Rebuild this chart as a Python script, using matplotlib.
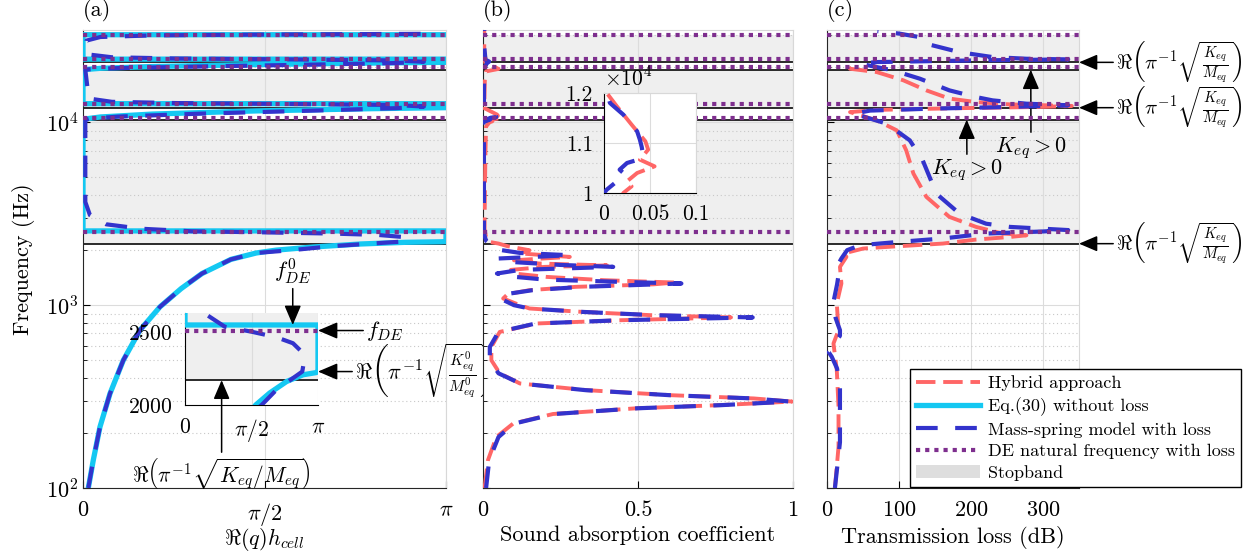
import numpy as np
import matplotlib.pyplot as plt
from matplotlib.lines import Line2D
from matplotlib.patches import Patch

plt.rcParams['font.family'] = 'cmr10'
plt.rcParams['mathtext.fontset'] = 'cm'
plt.rcParams['axes.formatter.use_mathtext'] = True
plt.rcParams['axes.unicode_minus'] = False
plt.rcParams['font.size'] = 16

PI = np.pi

# horizontal reference frequencies (Hz)
f_de = [2510, 10610, 12650, 20050, 22170, 30150]      # DE natural frequency with loss
f_keq = [2170, 10350, 12030, 19410, 21290]            # Re(pi^-1 sqrt(Keq/Meq))
stopbands = [(2170, 10350), (12030, 19410), (21290, 30150)]
f_de0 = 2548      # lossless DE frequency
f_keq0 = 2229     # Re(pi^-1 sqrt(K0/M0))

# (a) Re(q)h_cell vs frequency
cyan_q = [0.046, 0.089, 0.147, 0.234, 0.349, 0.493, 0.666, 0.85, 1.03, 1.28, 1.5, 1.67, 2.0, 2.40, 2.79, 3.10,
          PI, PI, 0, 0, 0.15, 0.6, 1.5, 2.5, PI, PI, 0, 0, 0.15, 0.6, 1.5, 2.5, PI, PI, 0, 0, PI]
cyan_f = [100, 142, 216, 329, 500, 730, 979, 1233, 1490, 1780, 1930, 2000, 2082, 2161, 2207, 2222,
          2229, 2548, 2548, 10400, 10700, 11100, 11550, 11880, 12030, 12650, 12650, 19410, 19750, 20200, 20700,
          21100, 21290, 22170, 22170, 30150, 30150]
blue_q = [0.046, 0.089, 0.147, 0.234, 0.349, 0.493, 0.666, 0.85, 1.03, 1.28, 1.5, 1.81, 2.16, 2.55, 2.77, 2.81,
          2.79, 2.55, 2.16, 1.57, 0.94, 0.5, 0.2, 0.06, 0.02, 0.02, 0.05, 0.3, 1.0, 2.0, 2.7, 2.95, 2.7, 1.8,
          0.8, 0.25, 0.05, 0.02, 0.05, 0.3, 1.0, 2.0, 2.7, 2.95, 2.7, 1.8, 0.8, 0.25, 0.05, 0.02, 0.03, 0.15,
          0.6, 1.5, 2.5, 3.0]
blue_f = [100, 142, 216, 329, 500, 730, 979, 1233, 1490, 1780, 1930, 2000, 2104, 2184, 2229, 2297,
          2355, 2423, 2464, 2502, 2536, 2620, 2770, 3110, 3670, 10300, 10450, 10750, 11150, 11600, 11950, 12200,
          12450, 12600, 12750, 12950, 13500, 19350, 19500, 19800, 20200, 20700, 21100, 21450, 21800, 22100,
          22350, 22700, 23500, 25000, 28000, 29300, 29900, 30200, 30400, 30500]

# (b) sound absorption coefficient (f, alpha)
red_b = [(100, .005), (142, .016), (190, .043), (225, .097), (254, .226), (273, .496), (284, .765), (297, .997),
         (309, .873), (322, .603), (343, .334), (373, .119), (424, .054), (500, .027), (591, .027), (714, .054),
         (794, .173), (828, .45), (857, .80), (882, .54), (919, .32), (959, .15), (1000, .119), (1088, .065),
         (1150, .08), (1208, .15), (1260, .30), (1300, .55), (1330, .62), (1370, .39), (1428, .205), (1490, .10),
         (1560, .09), (1620, .20), (1650, .40), (1690, .18), (1760, .10), (1837, .28), (1918, .12), (1997, .15),
         (2100, .08), (2173, .05), (2219, .02), (2350, .01), (2600, .005), (4000, .006), (7000, .008), (9500, .01),
         (10000, .021), (10133, .030), (10233, .025), (10400, .036), (10533, .055), (10667, .039), (10867, .048),
         (11033, .045), (11167, .039), (11367, .030), (11733, .014), (12000, .003), (12300, .004), (14000, .005),
         (17000, .006), (19000, .01), (19300, .03), (19600, .05), (20000, .04), (20500, .02), (21000, .008),
         (22000, .005), (25000, .004), (30000, .004), (32000, .004)]
blue_b = [(100, .01), (142, .02), (190, .05), (225, .10), (254, .23), (273, .50), (284, .77), (297, .99),
          (309, .87), (322, .60), (343, .33), (373, .12), (424, .05), (500, .022), (591, .022), (714, .05),
          (794, .17), (828, .45), (857, .87), (882, .55), (919, .32), (959, .15), (1000, .10), (1088, .055),
          (1150, .075), (1208, .16), (1260, .32), (1314, .64), (1340, .45), (1380, .20), (1430, .10), (1490, .045),
          (1560, .12), (1620, .42), (1660, .25), (1720, .10), (1800, .05), (1876, .28), (1930, .12), (2000, .06),
          (2100, .04), (2180, .02), (2250, .01), (2400, .005), (2600, .003), (5000, .003), (9000, .003),
          (10000, 0.0), (10067, .003), (10233, .014), (10367, .023), (10467, .017), (10600, .025), (10700, .043),
          (10920, .041), (11067, .039), (11233, .036), (11567, .021), (11800, .0065), (12000, .003), (15000, .003),
          (19000, .004), (20000, .006), (21000, .012), (21500, .02), (22000, .008), (26000, .004), (30000, .006),
          (32000, .004)]

# (c) transmission loss (f, dB)
red_c = [(100, 11), (168, 16), (278, 16), (441, 13.6), (617, 9), (729, 16), (1021, 13.6), (1314, 20), (1620, 18),
         (1837, 27), (1917, 23), (2040, 50), (2066, 69), (2173, 161), (2285, 207), (2361, 254), (2411, 277),
         (2440, 262), (2465, 244), (2680, 207), (3040, 170), (3910, 138), (5250, 120), (7030, 110), (9040, 97),
         (10250, 69), (11380, 32), (11700, 70), (11950, 180), (12150, 300), (12300, 340), (12540, 254),
         (12910, 207), (13490, 170), (14960, 138), (16980, 106), (18840, 69), (19640, 32), (20100, 30)]
blue_c = [(100, 11), (178, 18), (357, 18), (450, 14), (522, 6.6), (556, 2), (600, 8), (680, 18), (730, 18),
          (850, 12), (1042, 9), (1300, 14), (1459, 16), (1620, 13.6), (1800, 20), (2000, 28), (2127, 46),
          (2222, 101), (2316, 161), (2465, 221), (2530, 300), (2575, 335), (2620, 300), (2680, 254), (2790, 221),
          (3170, 184), (4070, 152), (6190, 133), (7970, 115), (9840, 83), (11160, 37), (11600, 60), (11900, 150),
          (12130, 250), (12400, 335), (12650, 277), (13190, 230), (13750, 207), (14960, 170), (17330, 129),
          (19230, 92), (20940, 46), (21370, 69), (21800, 200), (22100, 335), (22280, 277), (22750, 230),
          (24200, 184), (26900, 138), (29240, 129), (30600, 100), (31500, 70)]

c_red = '#ff6666'
c_blue = '#3333cc'
c_cyan = '#14c8f2'
c_purple = '#7e2f8e'
c_stop = '#efefef'
red_ls = (0, (5.0, 2.0))
blue_ls = (0, (5.2, 4.2))
dot_ls = (0, (1, 1.2))

W, H = 1256, 552
fig = plt.figure(figsize=(W / 100, H / 100), dpi=100)


def px_axes(l, t, r, b):
    return fig.add_axes([l / W, 1 - b / H, (r - l) / W, (b - t) / H])


def style(ax, ylog=True):
    if ylog:
        ax.set_yscale('log')
        ax.set_ylim(100, 32000)
        ax.set_yticks([100, 1000, 10000])
        ax.grid(True, which='minor', axis='y', color='#c8c8c8', ls=(0, (1, 2.5)), lw=0.8)
    ax.grid(True, which='major', color='#dcdcdc', lw=0.8)
    ax.tick_params(direction='in', which='both', top=False, right=False, labelsize=16)
    ax.tick_params(axis='x', pad=9)
    ax.tick_params(which='major', length=5)
    ax.tick_params(which='minor', length=3)
    for s in ['top', 'right']:
        ax.spines[s].set_color('#d8d8d8')
    for s in ['left', 'bottom']:
        ax.spines[s].set_color('#262626')


def background(ax, dots=True):
    for lo, hi in stopbands:
        ax.axhspan(lo, hi, color=c_stop, lw=0, zorder=0)
    for f in f_keq:
        ax.axhline(f, color='#1a1a1a', lw=1.3, zorder=2)
    if dots:
        for f in f_de:
            ax.axhline(f, color=c_purple, lw=3, ls=dot_ls, zorder=6)


def xlabel(ax, text):
    ax.set_xlabel(text, fontsize=16, va='top')
    ax.xaxis.set_label_coords(0.5, -0.082)


# ---------- (a)
ax_a = px_axes(83, 30, 446, 488)
style(ax_a)
background(ax_a)
ax_a.plot(cyan_q, cyan_f, color=c_cyan, lw=3.8, zorder=3)
ax_a.plot(blue_q, blue_f, color=c_blue, lw=3, ls=blue_ls, zorder=4)
ax_a.set_xlim(0, PI)
ax_a.set_xticks([0, PI / 2, PI])
ax_a.set_xticklabels(['0', r'$\pi/2$', r'$\pi$'])
xlabel(ax_a, r'$\Re(q)h_{cell}$')
ax_a.set_ylabel('Frequency (Hz)', fontsize=16, labelpad=8)
ax_a.text(0, 1.018, '(a)', transform=ax_a.transAxes, fontsize=16, va='bottom')

# inset (a)
ax_ia = px_axes(185, 313, 318, 405)
ax_ia.set_facecolor('white')
for lo, hi in stopbands:
    ax_ia.axhspan(lo, hi, color=c_stop, lw=0, zorder=0)
ax_ia.axhline(f_keq[0], color='#1a1a1a', lw=1.3, zorder=2)
ax_ia.axhline(f_de[0], color=c_purple, lw=3, ls=dot_ls, zorder=6)
ax_ia.plot(cyan_q, cyan_f, color=c_cyan, lw=3.8, zorder=3)
ax_ia.plot(blue_q, blue_f, color=c_blue, lw=3, ls=blue_ls, zorder=4)
ax_ia.set_xlim(0, PI)
ax_ia.set_ylim(2000, 2630)
ax_ia.set_xticks([0, PI / 2, PI])
ax_ia.set_xticklabels(['0', r'$\pi/2$', r'$\pi$'])
ax_ia.set_yticks([2000, 2500])
ax_ia.grid(True, axis='x', color='#dcdcdc', lw=0.8)
ax_ia.tick_params(direction='in', length=0, labelsize=15.5, pad=9)
for s in ['top', 'right']:
    ax_ia.spines[s].set_visible(False)

arr = dict(arrowstyle='-|>,head_length=0.75,head_width=0.32', color='k', lw=1.1, shrinkA=0, shrinkB=0)
ax_ia.annotate(r'$f^0_{DE}$', xy=(2.545, f_de0), xytext=(2.545, 281), textcoords=('data', 'figure pixels'),
               ha='center', va='center', fontsize=16, arrowprops=arr, annotation_clip=False)
ax_ia.annotate(r'$f_{DE}$', xy=(PI, f_de[0]), xytext=(366, f_de[0]), textcoords=('figure pixels', 'data'),
               ha='left', va='center', fontsize=16, arrowprops=arr, annotation_clip=False)
ax_ia.annotate(r'$\Re\left(\pi^{-1}\sqrt{\frac{K^0_{eq}}{M^0_{eq}}}\right)$', xy=(PI, f_keq0),
               xytext=(355, f_keq0), textcoords=('figure pixels', 'data'),
               ha='left', va='center', fontsize=16, arrowprops=arr, annotation_clip=False)
ax_ia.annotate(r'$\Re\left(\pi^{-1}\sqrt{K_{eq}/M_{eq}}\right)$', xy=(0.865, f_keq[0]), xytext=(0.865, H - 473),
               textcoords=('data', 'figure pixels'), ha='center', va='center', fontsize=15.5,
               arrowprops=arr, annotation_clip=False)

# ---------- (b)
fb_r, ab_r = np.array(red_b).T
fb_b, ab_b = np.array(blue_b).T
ax_b = px_axes(483, 30, 793, 488)
style(ax_b)
background(ax_b)
ax_b.plot(ab_r, fb_r, color=c_red, lw=2.8, ls=red_ls, zorder=3)
ax_b.plot(ab_b, fb_b, color=c_blue, lw=3, ls=blue_ls, zorder=4)
ax_b.set_xlim(0, 1)
ax_b.set_xticks([0, 0.5, 1])
ax_b.set_xticklabels(['0', '0.5', '1'])
ax_b.tick_params(labelleft=False)
xlabel(ax_b, 'Sound absorption coefficient')
ax_b.text(0, 1.018, '(b)', transform=ax_b.transAxes, fontsize=16, va='bottom')

ax_ib = px_axes(604, 93, 696, 193)
ax_ib.set_facecolor('white')
ax_ib.plot(ab_r, fb_r, color=c_red, lw=2.8, ls=red_ls, zorder=3)
ax_ib.plot(ab_b, fb_b, color=c_blue, lw=3, ls=blue_ls, zorder=4)
ax_ib.set_xlim(0, 0.1)
ax_ib.set_ylim(10000, 12000)
ax_ib.set_xticks([0, 0.05, 0.1])
ax_ib.set_xticklabels(['0', '0.05', '0.1'])
ax_ib.set_yticks([10000, 11000, 12000])
ax_ib.set_yticklabels(['1', '1.1', '1.2'])
ax_ib.grid(True, color='#dcdcdc', lw=0.8)
ax_ib.tick_params(direction='in', length=0, labelsize=15.5, pad=8)
for s in ['top', 'right']:
    ax_ib.spines[s].set_color('#d8d8d8')
ax_ib.text(0, 1.03, r'$\times10^4$', transform=ax_ib.transAxes, fontsize=15.5, va='bottom', ha='left')

# ---------- (c)
fc_r, tl_r = np.array(red_c).T
fc_b, tl_b = np.array(blue_c).T
ax_c = px_axes(827, 30, 1079, 488)
style(ax_c)
background(ax_c)
ax_c.plot(tl_r, fc_r, color=c_red, lw=2.8, ls=red_ls, zorder=3)
ax_c.plot(tl_b, fc_b, color=c_blue, lw=3, ls=blue_ls, zorder=4)
ax_c.set_xlim(0, 350)
ax_c.set_xticks([0, 100, 200, 300])
ax_c.tick_params(labelleft=False)
xlabel(ax_c, 'Transmission loss (dB)')
ax_c.text(0, 1.018, '(c)', transform=ax_c.transAxes, fontsize=16, va='bottom')

for f in [f_keq[0], f_keq[2], f_keq[4]]:
    ax_c.annotate(r'$\Re\left(\pi^{-1}\sqrt{\frac{K_{eq}}{M_{eq}}}\right)$', xy=(350, f), xytext=(1116, f),
                  textcoords=('figure pixels', 'data'), ha='left', va='center', fontsize=15,
                  arrowprops=arr, annotation_clip=False)
ax_c.annotate(r'$K_{eq} > 0$', xy=(194, f_keq[1]), xytext=(967, H - 170), textcoords='figure pixels',
              ha='center', va='center', fontsize=16, arrowprops=arr)
ax_c.annotate(r'$K_{eq} > 0$', xy=(283, f_keq[3]), xytext=(1031, H - 148), textcoords='figure pixels',
              ha='center', va='center', fontsize=16, arrowprops=arr)

handles = [Line2D([], [], color=c_red, lw=2.8, ls=red_ls),
           Line2D([], [], color=c_cyan, lw=3.8),
           Line2D([], [], color=c_blue, lw=3, ls=blue_ls),
           Line2D([], [], color=c_purple, lw=3, ls=dot_ls),
           Patch(facecolor='#dedede', edgecolor='none')]
labels = ['Hybrid approach', 'Eq.(30) without loss', 'Mass-spring model with loss',
          'DE natural frequency with loss', 'Stopband']
fig.legend(handles, labels, loc='upper left', bbox_to_anchor=(910 / W, 1 - 369 / H), fontsize=13,
           frameon=True, fancybox=False, edgecolor='k', framealpha=1, handlelength=3.5,
           borderpad=0.35, labelspacing=0.33, handletextpad=0.45, borderaxespad=0)

fig.savefig('out.png', dpi=100)
